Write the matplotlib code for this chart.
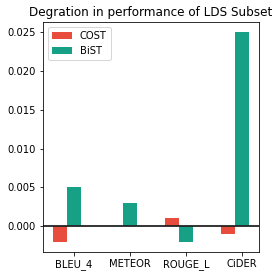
import matplotlib
matplotlib.use('Agg')
import matplotlib.pyplot as plt
import numpy as np

metrics = ['BLEU_4', 'METEOR', 'ROUGE_L', 'CiDER']
cost = [-0.002, 0.0, 0.001, -0.001]
bist = [0.005, 0.003, -0.002, 0.025]

x = np.arange(len(metrics))
width = 0.25

fig = plt.figure(figsize=(279/72, 278/72), dpi=72)
ax = fig.add_axes([43/279, 26/278, 216/279, 230/278])

ax.bar(x - width, cost, width, color='#E74C3C', label='COST')
ax.bar(x, bist, width, color='#16A085', label='BiST')
ax.axhline(0, color='#222222', linewidth=1.8)

ax.set_xticks(x)
ax.set_xticklabels(metrics)
ax.set_title('Degration in performance of LDS Subset')
ax.legend(loc='upper left')

plt.savefig('out.png', dpi=72)
